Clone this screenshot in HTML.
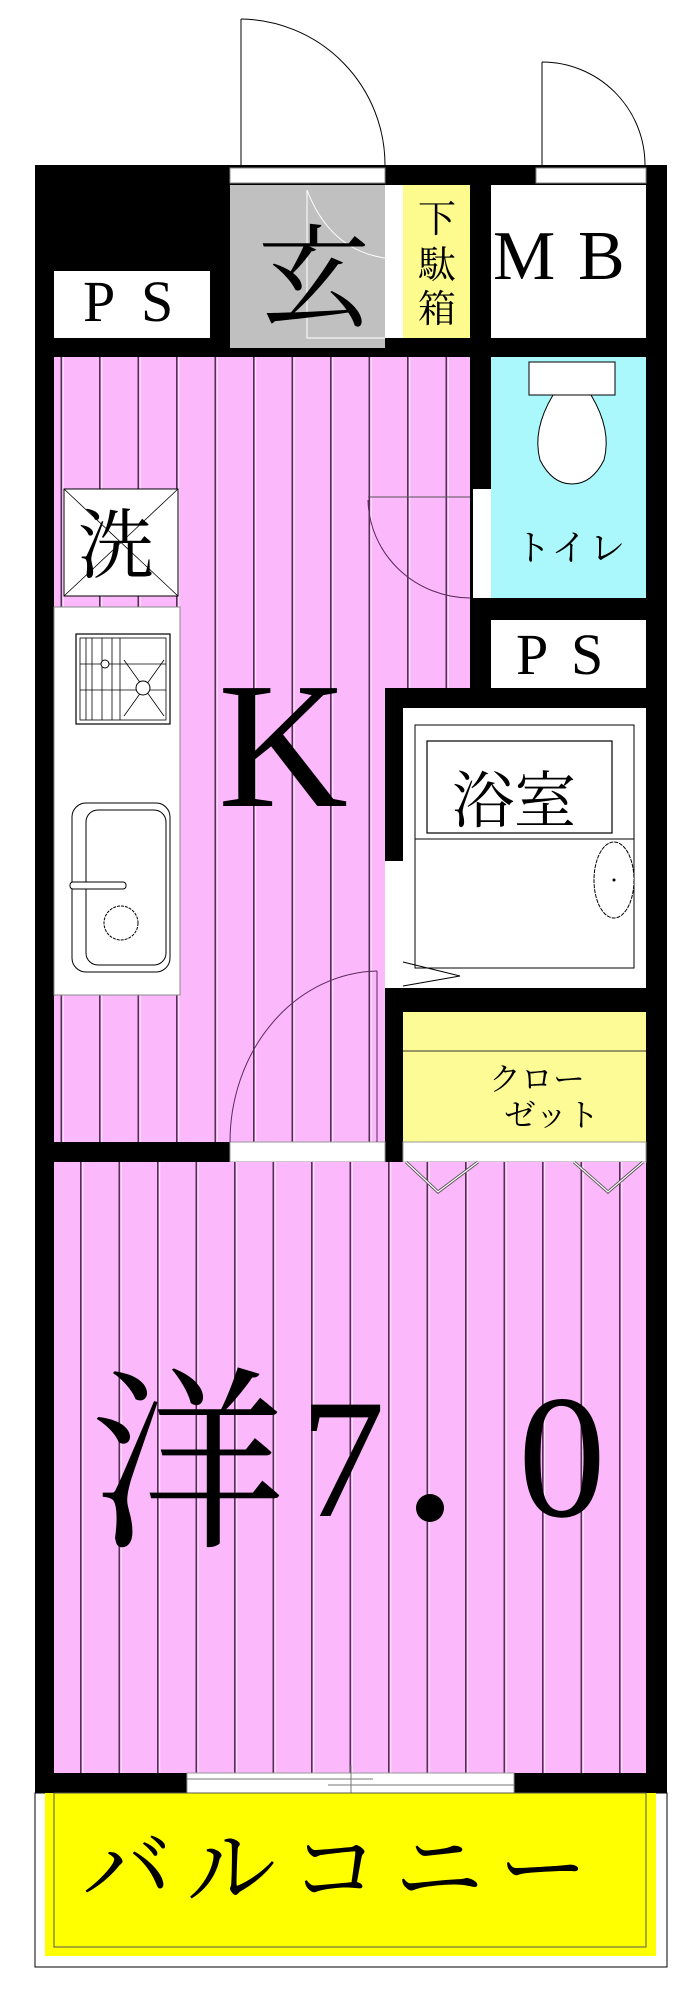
<!DOCTYPE html>
<html><head><meta charset="utf-8"><style>
html,body{margin:0;padding:0;background:#fff;}
svg{display:block;}
text{font-family:"Liberation Serif","Noto Serif CJK JP",serif;fill:#000;}
</style></head><body>
<svg width="696" height="2000" viewBox="0 0 696 2000" xmlns="http://www.w3.org/2000/svg">
<defs>
<pattern id="st1" x="22" y="0" width="38.5" height="10" patternUnits="userSpaceOnUse">
<rect width="38.5" height="10" fill="#fbb8fb"/><rect x="0" width="1.6" height="10" fill="#5a2a5a"/><rect x="2.2" width="1" height="10" fill="#fff0ff"/></pattern>
<pattern id="st2" x="3" y="0" width="38.5" height="10" patternUnits="userSpaceOnUse">
<rect width="38.5" height="10" fill="#fbb8fb"/><rect x="0" width="1.6" height="10" fill="#5a2a5a"/><rect x="2.2" width="1" height="10" fill="#fff0ff"/></pattern>
</defs>

<rect x="35" y="165" width="632" height="1628" fill="#000"/>

<rect x="230" y="168" width="155" height="15" fill="#fff" stroke="#888" stroke-width="1"/>
<rect x="536" y="168" width="110" height="15" fill="#fff" stroke="#888" stroke-width="1"/>

<line x1="241" y1="19" x2="241" y2="165" stroke="#000" stroke-width="1"/>
<path d="M241 19 A146 146 0 0 1 385 165" fill="none" stroke="#000" stroke-width="1"/>
<line x1="542" y1="62" x2="542" y2="165" stroke="#000" stroke-width="1"/>
<path d="M542 62 A103 103 0 0 1 645 165" fill="none" stroke="#000" stroke-width="1"/>

<rect x="54" y="271" width="156" height="67" fill="#fff"/>
<text x="83" y="321" font-size="58">P</text><text x="141" y="321" font-size="58">S</text>

<rect x="230" y="185" width="155" height="163" fill="#c0c0c0"/>
<path d="M307 190 L307 338 L385 338" fill="none" stroke="#fff" stroke-width="1"/>
<path d="M307 190 Q330 250 385 258" fill="none" stroke="#fff" stroke-width="1"/>
<text x="258" y="318" font-size="112">玄</text>

<rect x="385" y="185" width="18" height="153" fill="#fff"/>
<rect x="403" y="185" width="67" height="153" fill="#fdfb8e"/>
<text x="418" y="232" font-size="38">下</text>
<text x="418" y="278" font-size="38">駄</text>
<text x="418" y="322" font-size="38">箱</text>

<rect x="491" y="185" width="155" height="153" fill="#fff"/>
<text x="493" y="279" font-size="70">M</text><text x="578" y="279" font-size="70">B</text>

<rect x="54" y="357" width="416" height="331" fill="url(#st1)"/>
<rect x="54" y="688" width="331" height="454" fill="url(#st1)"/>

<rect x="491" y="357" width="155" height="241" fill="#aaf8fb"/>
<rect x="473" y="489" width="18" height="109" fill="#fff"/>
<rect x="529" y="362" width="86" height="33" fill="#fff" stroke="#000" stroke-width="1"/>
<path d="M553 395 Q532 430 540 460 Q552 484 572 484 Q592 484 604 460 Q612 430 591 395 Z" fill="#fff" stroke="#000" stroke-width="1"/>
<text x="515" y="560" font-size="36" letter-spacing="2">トイレ</text>
<path d="M368 497 L470 497" stroke="#555" stroke-width="1"/>
<path d="M368 500 A103 100 0 0 0 470 598" fill="none" stroke="#5a2a5a" stroke-width="1"/>

<rect x="491" y="620" width="155" height="68" fill="#fff"/>
<text x="516" y="674" font-size="58">P</text><text x="571" y="674" font-size="58">S</text>

<rect x="64" y="489" width="114" height="107" fill="#fff" stroke="#000" stroke-width="1"/>
<line x1="64" y1="489" x2="178" y2="596" stroke="#000" stroke-width="0.8"/>
<line x1="178" y1="489" x2="64" y2="596" stroke="#000" stroke-width="0.8"/>
<text x="78" y="572" font-size="76">洗</text>

<rect x="54" y="607" width="126" height="388" fill="#fff" stroke="#888" stroke-width="1"/>
<rect x="76" y="634" width="94" height="90" fill="#fff" stroke="#000" stroke-width="1.2"/>
<rect x="80" y="638" width="86" height="82" fill="none" stroke="#000" stroke-width="0.8"/>
<g stroke="#000" stroke-width="0.8">
<line x1="86" y1="638" x2="86" y2="720"/><line x1="92" y1="638" x2="92" y2="720"/><line x1="102" y1="638" x2="102" y2="720"/><line x1="112" y1="638" x2="112" y2="720"/><line x1="120" y1="638" x2="120" y2="720"/>
<line x1="80" y1="664" x2="166" y2="664"/><line x1="80" y1="690" x2="166" y2="690"/>
<line x1="124" y1="660" x2="164" y2="716"/><line x1="164" y1="660" x2="124" y2="716"/>
</g>
<circle cx="143" cy="688" r="7" fill="#fff" stroke="#000"/>
<circle cx="105" cy="664" r="4" fill="#fff" stroke="#000"/>
<rect x="72" y="803" width="98" height="169" rx="14" fill="#fff" stroke="#000" stroke-width="1"/>
<rect x="86" y="810" width="80" height="155" rx="12" fill="none" stroke="#000" stroke-width="1"/>
<rect x="70" y="882" width="56" height="7" rx="3" fill="#fff" stroke="#000" stroke-width="1"/>
<circle cx="121" cy="923" r="17" fill="none" stroke="#000" stroke-width="1" stroke-dasharray="3 1"/>

<text x="218" y="806" font-size="180">K</text>

<rect x="403" y="708" width="243" height="280" fill="#fff"/>
<rect x="385" y="861" width="18" height="127" fill="#fff"/>
<rect x="415" y="725" width="219" height="243" fill="none" stroke="#000" stroke-width="1"/>
<line x1="415" y1="839" x2="634" y2="839" stroke="#000" stroke-width="1"/>
<rect x="427" y="741" width="185" height="92" fill="#fff" stroke="#000" stroke-width="1.2"/>
<text x="452" y="822" font-size="62">浴室</text>
<ellipse cx="614" cy="880" rx="20" ry="38" fill="#fff" stroke="#000" stroke-width="1" stroke-dasharray="4 1"/>
<circle cx="614" cy="880" r="1.5" fill="#000"/>
<path d="M403 962 L460 976 L403 986" fill="none" stroke="#000" stroke-width="1"/>

<rect x="403" y="1012" width="243" height="130" fill="#fdfb95"/>
<line x1="403" y1="1051" x2="646" y2="1051" stroke="#333" stroke-width="1"/>
<text x="489" y="1090" font-size="32">クロー</text>
<text x="504" y="1126" font-size="32">ゼット</text>

<rect x="230" y="1142" width="155" height="20" fill="#fff" stroke="#999" stroke-width="1"/>
<rect x="403" y="1142" width="243" height="20" fill="#fff" stroke="#999" stroke-width="1"/>

<line x1="377" y1="971" x2="377" y2="1142" stroke="#5a2a5a" stroke-width="1"/>
<path d="M377 971 A150 171 0 0 0 230 1142" fill="none" stroke="#5a2a5a" stroke-width="1"/>

<rect x="54" y="1162" width="592" height="611" fill="url(#st2)"/>
<g fill="none" stroke="#555" stroke-width="3">
<path d="M406 1162 L438 1192 L478 1162"/>
<path d="M574 1162 L608 1192 L643 1162"/>
</g>
<g fill="none" stroke="#fff" stroke-width="1.2">
<path d="M406 1162 L438 1192 L478 1162"/>
<path d="M574 1162 L608 1192 L643 1162"/>
</g>
<text x="90" y="1532" font-size="196">洋</text>
<text x="300" y="1516" font-size="170">7</text>
<circle cx="430" cy="1508" r="14" fill="#000"/>
<text x="518" y="1516" font-size="176">0</text>

<rect x="187" y="1773" width="327" height="20" fill="#fff" stroke="#999" stroke-width="1"/>
<line x1="187" y1="1779" x2="373" y2="1779" stroke="#777"/>
<line x1="328" y1="1785" x2="514" y2="1785" stroke="#777"/>
<line x1="351" y1="1765" x2="351" y2="1802" stroke="#777"/>

<rect x="35" y="1793" width="632" height="174" fill="#fff" stroke="#000" stroke-width="1"/>
<rect x="45" y="1793" width="611" height="163" fill="#ffff00"/>
<rect x="54" y="1793" width="592" height="154" fill="none" stroke="#555" stroke-width="1"/>
<text x="82" y="1900" font-size="90" letter-spacing="14">バルコニー</text>
</svg>
</body></html>
